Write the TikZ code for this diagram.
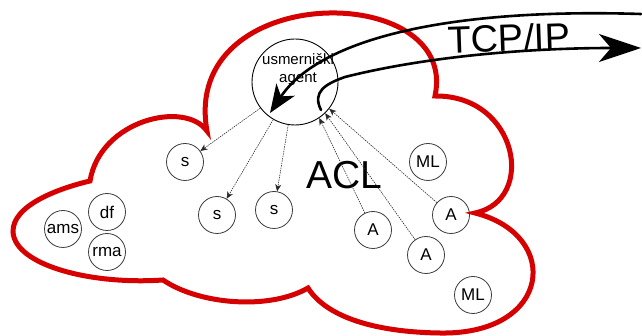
\documentclass[tikz,border=0pt]{standalone}
\usepackage{fontspec}
\setmainfont{Liberation Sans}
\usetikzlibrary{arrows.meta}
\definecolor{cloudred}{RGB}{214,0,0}
\definecolor{ring}{RGB}{60,60,60}
\definecolor{dotline}{RGB}{40,40,40}
\begin{document}
\begin{tikzpicture}[x=1pt,y=-1pt,
  cloudline/.style={draw=cloudred,line width=5pt,line join=miter},
  smallnode/.style={circle,draw=ring,line width=0.8pt,minimum size=37pt,inner sep=0pt,font=\fontsize{17pt}{20pt}\selectfont},
  agentnode/.style={circle,draw=black,line width=0.9pt,minimum size=86pt,inner sep=0pt},
  msgline/.style={draw=dotline,line width=0.6pt,dash pattern=on 1.4pt off 1pt,-{Stealth[length=7pt,width=6pt,inset=2pt]}},
  netline/.style={draw=black,line width=2.6pt,line cap=round}]
\useasboundingbox (0,0) rectangle (642,336);
% cloud
\path[cloudline] (90,181) .. controls (100,120) and (185,100) .. (207,131)
  .. controls (180,-20) and (460,-20) .. (435,96)
  .. controls (518,95) and (537,200) .. (475,213)
  .. controls (562,235) and (552,335) .. (440,333)
  .. controls (370,332) and (325,315) .. (308,288)
  .. controls (270,310) and (200,305) .. (163,280)
  .. controls (90,285) and (15,265) .. (13,232)
  .. controls (12,205) and (60,188) .. (90,181) -- cycle;
% nodes
\node[agentnode] (agent) at (295,82) {};
\node[font=\fontsize{15pt}{18pt}\selectfont,align=center,inner sep=0pt] (agentlbl) at (298,70) {usmerniški\\agent};
\node[smallnode] (s1) at (185,162) {s};
\node[smallnode] (s2) at (217,215) {s};
\node[smallnode] (s3) at (274,210) {s};
\node[smallnode] (ams) at (63,229) {ams};
\node[smallnode] (df) at (107,212) {df};
\node[smallnode] (rma) at (107,252) {rma};
\node[smallnode] (ml1) at (428,162) {ML};
\node[smallnode] (a1) at (373,230) {A};
\node[smallnode] (a2) at (426,255) {A};
\node[smallnode] (a3) at (451,215) {A};
\node[smallnode] (ml2) at (473,295) {ML};
\node[font=\fontsize{39pt}{39pt}\selectfont,inner sep=0pt] (acl) at (344,175) {ACL};
\node[font=\fontsize{38pt}{38pt}\selectfont,inner sep=0pt,rotate=2] (tcp) at (509,38) {TCP/IP};
% ACL messages
\draw[msgline] (agent.-143) -- (s1);
\draw[msgline] (agent.-120) -- (s2);
\draw[msgline] (agent.-99) -- (s3);
\draw[msgline] (a1) -- (agent.-56);
\draw[msgline] (a2) -- (agent.-46);
\draw[msgline] (a3) -- (agent.-38);
% TCP/IP links
\coordinate (tcpin) at (641,14);
\coordinate (agentin) at (270,113);
\coordinate (agentout) at (321,110);
\coordinate (tcpout) at (641,48);
\draw[netline,-{Stealth[length=28pt,width=22pt,inset=8pt]}] (tcpin) .. controls (450,8) and (320,38) .. (agentin);
\draw[netline,-{Stealth[length=42pt,width=28pt,inset=12pt]}] (agentout) .. controls (312,92) and (325,84) .. (345,77) .. controls (420,58) and (520,48) .. (tcpout);
\end{tikzpicture}
\end{document}
